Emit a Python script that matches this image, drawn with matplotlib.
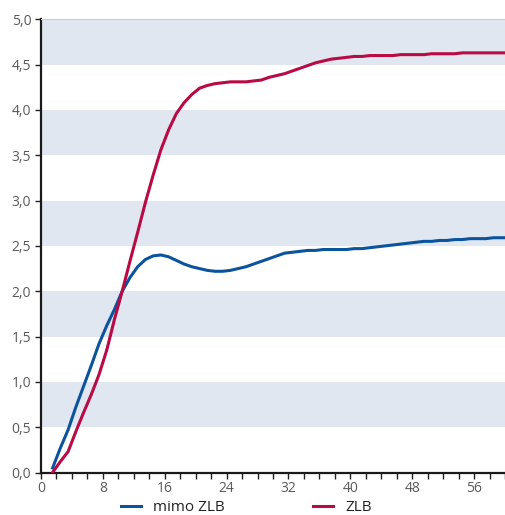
import matplotlib
matplotlib.use('Agg')
import matplotlib.pyplot as plt
from matplotlib.ticker import MultipleLocator, FuncFormatter

# months since start (horizontal axis)
months = [m + 0.5 for m in range(1, 61)]

mimo_zlb = [0.05, 0.27, 0.47, 0.72, 0.95, 1.18, 1.42, 1.62, 1.80, 2.00,
            2.15, 2.27, 2.35, 2.39, 2.40, 2.38, 2.34, 2.30, 2.27, 2.25,
            2.23, 2.22, 2.22, 2.23, 2.25, 2.27, 2.30, 2.33, 2.36, 2.39,
            2.42, 2.43, 2.44, 2.45, 2.45, 2.46, 2.46, 2.46, 2.46, 2.47,
            2.47, 2.48, 2.49, 2.50, 2.51, 2.52, 2.53, 2.54, 2.55, 2.55,
            2.56, 2.56, 2.57, 2.57, 2.58, 2.58, 2.58, 2.59, 2.59, 2.59]

zlb = [0.00, 0.12, 0.23, 0.45, 0.66, 0.86, 1.08, 1.35, 1.69, 2.00,
       2.33, 2.65, 2.98, 3.28, 3.56, 3.78, 3.96, 4.08, 4.17, 4.24,
       4.27, 4.29, 4.30, 4.31, 4.31, 4.31, 4.32, 4.33, 4.36, 4.38,
       4.40, 4.43, 4.46, 4.49, 4.52, 4.54, 4.56, 4.57, 4.58, 4.59,
       4.59, 4.60, 4.60, 4.60, 4.60, 4.61, 4.61, 4.61, 4.61, 4.62,
       4.62, 4.62, 4.62, 4.63, 4.63, 4.63, 4.63, 4.63, 4.63, 4.63]

bands = [(0.5, 1.0), (1.5, 2.0), (2.5, 3.0), (3.5, 4.0), (4.5, 5.0)]

blue = '#0b549d'
red = '#b80a44'
band_col = '#e1e7f1'
label_col = '#5a5a5a'

plt.rcParams['font.family'] = ['Open Sans', 'DejaVu Sans']

fig = plt.figure(figsize=(5.05, 5.15), dpi=100)
ax = fig.add_axes([41 / 505, 42.5 / 515, 464 / 505, 453.2 / 515])

for lo, hi in bands:
    ax.axhspan(lo, hi, color=band_col, lw=0, zorder=0)

ax.plot(months, mimo_zlb, color=blue, lw=2.2, label='mimo ZLB', zorder=3)
ax.plot(months, zlb, color=red, lw=2.2, label='ZLB', zorder=3)

ax.set_xlim(0, 60)
ax.set_ylim(0, 5)
ax.xaxis.set_major_locator(MultipleLocator(8))
ax.xaxis.set_minor_locator(MultipleLocator(2))
ax.yaxis.set_major_locator(MultipleLocator(0.5))
ax.yaxis.set_major_formatter(FuncFormatter(lambda v, p: f'{v:.1f}'.replace('.', ',')))

ax.tick_params(axis='both', which='both', direction='out', length=4, width=1,
               color='#222222', labelcolor=label_col, labelsize=10)
ax.tick_params(axis='y', pad=3)
ax.tick_params(axis='x', pad=2)

for s in ['left', 'bottom']:
    ax.spines[s].set_color('#1a1a1a')
    ax.spines[s].set_linewidth(1.6)
ax.spines['right'].set_visible(False)
ax.spines['top'].set_color('#c9ccd2')
ax.spines['top'].set_linewidth(0.8)

leg = ax.legend(loc='center', bbox_to_anchor=(0.443, -0.078), ncol=2, frameon=False,
                fontsize=11, handlelength=1.3, handletextpad=0.8, columnspacing=5.8,
                borderpad=0, borderaxespad=0)
for t in leg.get_texts():
    t.set_color('#222222')

fig.savefig('out.png', dpi=100)
